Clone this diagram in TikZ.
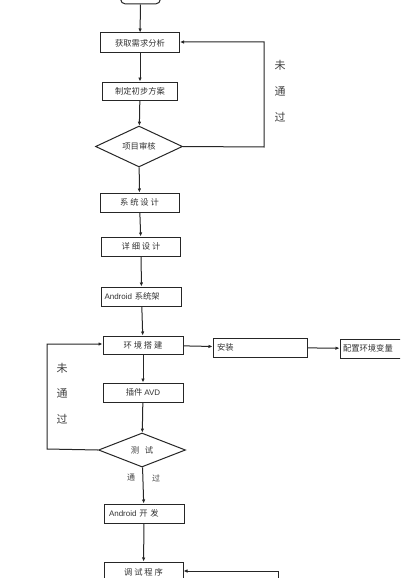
\documentclass[tikz,border=0pt]{standalone}
\usepackage{fontspec}
\setmainfont{Liberation Sans}
\newfontfamily\cjk{Noto Sans CJK SC}
\newcommand{\latn}[1]{{\fontsize{8}{9}\selectfont\rmfamily #1}}
\usetikzlibrary{shapes.geometric,arrows.meta}
\begin{document}
\begin{tikzpicture}[x=1pt,y=-1pt,
  box/.style={draw=black!85,line width=1pt,rectangle,inner sep=0pt,font=\fontsize{8.3}{9}\selectfont\cjk,text=black!80},
  dia/.style={draw=black!85,line width=1pt,diamond,inner sep=0pt,font=\fontsize{8.3}{9}\selectfont\cjk,text=black!80},
  txt/.style={inner sep=0pt,font=\fontsize{8.3}{9}\selectfont\cjk,text=black!80},
  arr/.style={draw=black!85,line width=1pt,-{Latex[length=4pt,width=3.5pt]}},
  lab/.style={font=\fontsize{11}{12}\selectfont\cjk,text=black!75,inner sep=0pt},
  slab/.style={font=\fontsize{8}{9}\selectfont\cjk,text=black!75,inner sep=0pt}]
\useasboundingbox (0,0) rectangle (400,578);
\clip (0,0) rectangle (400,578);
\fill[white] (0,0) rectangle (400,578);
% start
\node[box,rounded corners=5pt,minimum width=40pt,minimum height=16pt] (st) at (140.5,-4) {开始};
\node[box,minimum width=79pt,minimum height=20pt] (b1) at (140,43) {获取需求分析};
\node[box,minimum width=75pt,minimum height=18pt] (b2) at (140,91) {制定初步方案};
\node[dia,minimum width=87pt,minimum height=33pt] (d1) at (139,146.5) {项目审核};
\node[box,minimum width=79pt,minimum height=19pt] (b3) at (139.5,202.5) {系\ 统\ 设\ 计};
\node[box,minimum width=79pt,minimum height=19pt] (b4) at (141,246.5) {详\ 细\ 设\ 计};
\node[box,minimum width=80pt,minimum height=19pt,text width=74pt,align=left] (b5) at (141.5,296.5) {\latn{Android} 系统架};
\node[box,minimum width=80pt,minimum height=18pt] (b6) at (143,345) {环\ 境\ 搭\ 建};
\node[box,minimum width=94pt,minimum height=19pt,text width=86pt,align=left] (inst) at (260,347.5) {安装};
\node[box,minimum width=70pt,minimum height=19pt,text width=64pt,align=left] (cfg) at (375,348.5) {配置环境变量};
\node[box,minimum width=80pt,minimum height=19pt] (avd) at (143,392.5) {插件 \latn{AVD}};
\node[dia,minimum width=87pt,minimum height=34pt] (d2) at (142,450) {测\ \ \ 试};
\node[box,minimum width=80pt,minimum height=19pt,text width=70pt,align=left] (dev) at (144,513.5) {\latn{Android} 开\ 发};
\node[box,minimum width=79pt,minimum height=26pt] (dbg) at (143.5,575) {};
\node[txt] (dbgt) at (143.5,572) {调\ 试\ 程\ 序};
% vertical arrows
\draw[arr] (st) -- (b1);
\draw[arr] (b1) -- (b2);
\draw[arr] (b2) -- (d1);
\draw[arr] (d1) -- (b3);
\draw[arr] (b3) -- (b4);
\draw[arr] (b4) -- (b5);
\draw[arr] (b5) -- (b6);
\draw[arr] (b6) -- (avd);
\draw[arr] (avd) -- (d2);
\draw[arr] (d2) -- (dev);
\draw[arr] (dev) -- (dbg);
% horizontal
\draw[arr] (b6) -- (inst);
\draw[arr] (inst) -- (cfg);
% feedback loops
\coordinate (r1) at (264,147);
\coordinate (r2) at (264,42);
\draw[arr] (d1.east) -- (r1) -- (r2) -- (b1.east |- r2);
\coordinate (l1) at (47,449);
\coordinate (l2) at (47,344);
\draw[arr] (d2.west) -- (l1) -- (l2) -- (b6.west |- l2);
\coordinate (q1) at (278,600);
\coordinate (q2) at (278,571);
\draw[arr] (q1) -- (q2) -- (dbg.east |- q2);
% labels
\node[lab] (n1) at (280,65) {未};
\node[lab] (n2) at (280,91) {通};
\node[lab] (n3) at (280,117) {过};
\node[lab] (m1) at (62,368) {未};
\node[lab] (m2) at (62,393) {通};
\node[lab] (m3) at (62,419) {过};
\node[slab] (p1) at (131,478) {通};
\node[slab] (p2) at (156,478) {过};
\end{tikzpicture}
\end{document}
